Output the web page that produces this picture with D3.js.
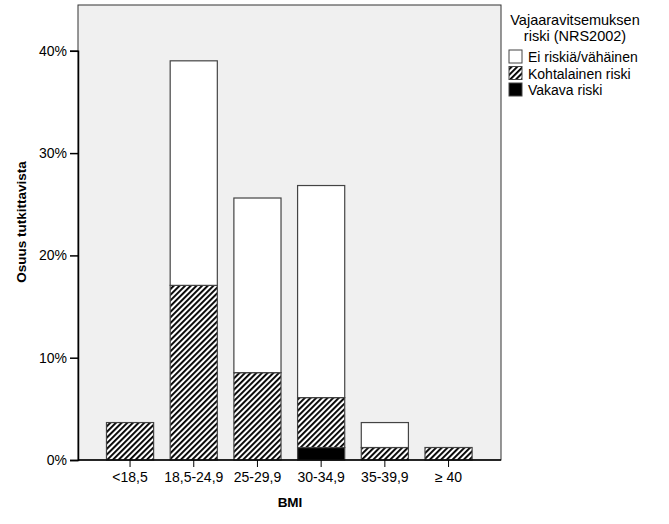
<!DOCTYPE html>
<html><head><meta charset="utf-8">
<script src="https://cdn.jsdelivr.net/npm/d3@7"></script>
<style>body{margin:0;background:#fff}svg{display:block;font-family:"Liberation Sans",Arial,sans-serif}</style>
</head><body><svg id="c" width="669" height="524"></svg>
<script>
const categories = ["<18,5","18,5-24,9","25-29,9","30-34,9","35-39,9","≥ 40"];
const vakava = [0, 0, 0, 1.22, 0, 0];
const kohtalainen = [3.66, 17.07, 8.54, 4.88, 1.22, 1.22];
const ei = [0, 21.95, 17.07, 20.73, 2.44, 0];
const seriesNames = ["Ei riskiä/vähäinen","Kohtalainen riski","Vakava riski"];
const yTicks = [0,10,20,30,40];

const svg = d3.select("#c");
const defs = svg.append("defs");
const pat = defs.append("pattern").attr("id","hatch").attr("patternUnits","userSpaceOnUse")
  .attr("width",4).attr("height",4).attr("patternTransform","rotate(45)");
pat.append("rect").attr("width",4).attr("height",4).attr("fill","#fff");
pat.append("rect").attr("x",0).attr("y",0).attr("width",1.9).attr("height",4).attr("fill","#000");

const L=78, R=501, T=5, B=460;
const x = d3.scaleBand().domain(categories).range([98.2,480.4]).paddingInner(0.26).paddingOuter(0.13);
const y = d3.scaleLinear().domain([0,40]).range([B,50.8]);

svg.append("rect").attr("x",L).attr("y",T).attr("width",R-L).attr("height",B-T)
  .attr("fill","#f0f0f0").attr("stroke","#333").attr("stroke-width",1);

const rows = categories.map((c,i)=>({c, v:vakava[i], k:kohtalainen[i], e:ei[i]}));
const stack = d3.stack().keys(["v","k","e"])(rows);
const fills = {v:"#000", k:"url(#hatch)", e:"#fff"};
stack.forEach(layer=>{
  svg.append("g").selectAll("rect").data(layer.filter(d=>d[1]-d[0]>0)).join("rect")
    .attr("x",d=>x(d.data.c)).attr("width",x.bandwidth())
    .attr("y",d=>y(d[1])).attr("height",d=>y(d[0])-y(d[1]))
    .attr("fill",fills[layer.key]).attr("stroke","#444").attr("stroke-width",1.2);
});

const ya = svg.append("g").attr("transform",`translate(${L},0)`)
  .call(d3.axisLeft(y).tickValues(yTicks).tickFormat(d=>d+"%").tickSize(8).tickPadding(3));
ya.select(".domain").attr("stroke","#000").attr("stroke-width",1.5);
ya.selectAll("text").attr("font-size",14).attr("fill","#000");
ya.selectAll("line").attr("stroke","#000").attr("stroke-width",1.5);

const xa = svg.append("g").attr("transform",`translate(0,${B})`)
  .call(d3.axisBottom(x).tickSize(7).tickPadding(5).tickSizeOuter(0));
xa.select(".domain").attr("stroke","#000").attr("stroke-width",1.5).attr("d",`M${L},0H${R}`);
xa.selectAll("text").attr("font-size",14).attr("fill","#000");
xa.selectAll("line").attr("stroke","#000").attr("stroke-width",1);

svg.append("text").attr("x",290).attr("y",507).attr("text-anchor","middle")
  .attr("font-size",13.5).attr("font-weight","bold").text("BMI");
svg.append("text").attr("transform","translate(26,222) rotate(-90)").attr("text-anchor","middle")
  .attr("font-size",13.5).attr("font-weight","bold").text("Osuus tutkittavista");

const lg = svg.append("g");
lg.append("text").attr("x",575).attr("y",25).attr("text-anchor","middle").attr("font-size",14.5).text("Vajaaravitsemuksen");
lg.append("text").attr("x",575).attr("y",41).attr("text-anchor","middle").attr("font-size",14.5).text("riski (NRS2002)");
const lfills = ["#fff","url(#hatch)","#000"];
seriesNames.forEach((n,i)=>{
  const yy = 50 + i*16.5;
  lg.append("rect").attr("x",509).attr("y",yy).attr("width",13).attr("height",13)
    .attr("fill",lfills[i]).attr("stroke","#444").attr("stroke-width",1);
  lg.append("text").attr("x",528).attr("y",yy+12).attr("font-size",14).text(n);
});
</script></body></html>
